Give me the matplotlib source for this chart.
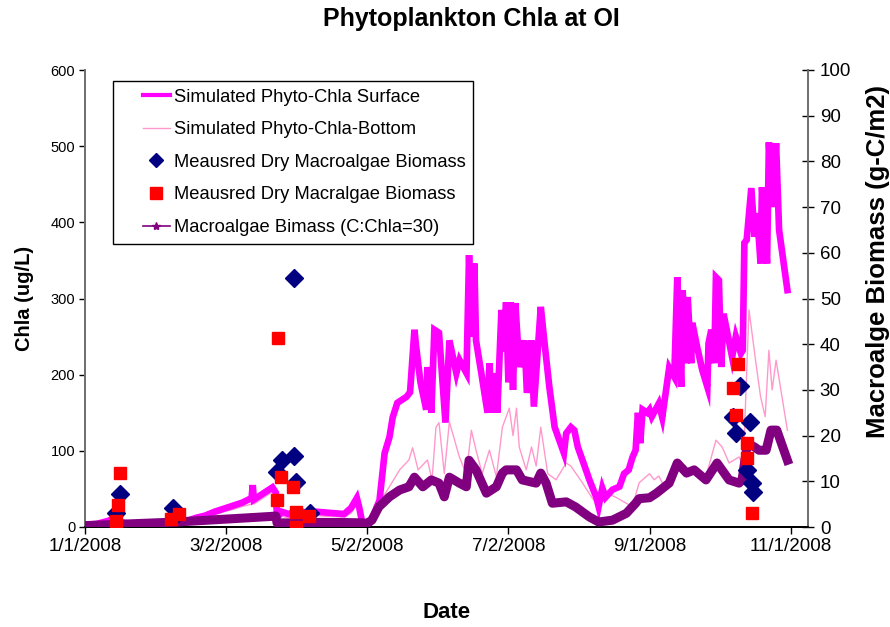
import matplotlib
matplotlib.use("Agg")
import matplotlib.pyplot as plt
from matplotlib.lines import Line2D
from matplotlib.legend_handler import HandlerLine2D

plt.rcParams['font.family'] = ['Liberation Sans', 'DejaVu Sans']

# Days since 1/1/2008
tick_days = [0, 61, 122, 183, 244, 305]
tick_labels = ["1/1/2008", "3/2/2008", "5/2/2008", "7/2/2008", "9/1/2008", "11/1/2008"]

# Simulated phytoplankton Chla at surface (ug/L)
surface_day = [0, 5, 10, 13, 16, 20, 26, 32, 36, 42, 48, 52, 56, 60, 64, 68, 72, 72.5, 73, 76,
               79, 81, 82.5, 83, 85, 88, 92, 96, 100, 104, 108, 112, 115, 117.5, 118.5, 120, 123,
               125, 127.3, 129.5, 131.6, 133, 135, 139, 140.5, 142.4, 143.0, 145, 147.5, 148,
               149.7, 151, 153, 155.8, 157.5, 160.5, 161.9, 164.9, 166, 167, 168.3, 169, 171.3,
               174, 174.8, 176, 177, 178.2, 180, 181, 182, 183, 184, 185, 186, 187.7, 190, 191,
               193, 194, 197, 198.5, 200.7, 203, 205, 207, 208, 210, 211.5, 213, 215, 218, 221,
               222, 223.6, 225, 228, 231, 233, 235, 236.7, 238, 239, 240, 241, 243, 244, 245,
               248, 249.5, 252.5, 254.7, 256, 257.7, 258.3, 260, 260.5, 262, 262.5, 264.6,
               266.8, 269, 269.5, 270.7, 272, 272.7, 274, 275, 276, 279.7, 281.3, 283.5, 284.3,
               285, 286, 288, 289.4, 290.5, 292, 292.6, 294.8, 295.6, 297, 298.7, 300, 303.6]
surface_chla = [3, 4, 8, 12, 6, 4, 3, 5, 3, 6, 12, 15, 20, 24, 28, 32, 38, 55, 36, 42,
                48, 52, 45, 12, 20, 17, 22, 18, 20, 19, 18, 17, 25, 38, 26, 3, 5,
                18, 35, 97, 118, 144, 163, 171, 177, 259, 240, 190, 154, 210,
                150, 259, 255, 137, 245, 202, 219, 202, 357, 250, 346, 245, 202,
                150, 215, 150, 202, 150, 285, 230, 295, 190, 295, 180, 294, 210, 245, 176,
                245, 158, 289, 245, 184, 131, 114, 97, 123, 131, 127, 105, 88, 62, 39,
                27, 51, 39, 49, 53, 70, 75, 92, 101, 150, 110, 154, 150, 154, 145,
                162, 144, 209, 197, 328, 184, 311, 215, 302, 215, 268, 236,
                206, 184, 241, 259, 215, 328, 324, 210, 280, 223, 250, 228, 232,
                373, 377, 445, 381, 412, 346, 446, 346, 505, 420, 504, 390, 311]

# Simulated phytoplankton Chla at bottom (ug/L)
bottom_day = [0, 10, 13, 16, 26, 36, 42, 48, 52, 56, 60, 64, 68, 72, 72.5, 73, 76, 79, 81, 82.5,
              83, 85, 88, 92, 96, 100, 104, 108, 112, 115, 117.5, 118.5, 120, 123, 127, 131.6,
              136, 140, 141.6, 144, 148, 150, 151.7, 153, 155.3, 157.5, 161.8, 164.8, 167, 169,
              171.7, 174.8, 177.8, 180.4, 183.4, 185, 186.5, 187.7, 190.7, 193, 195, 197, 200,
              203.6, 208, 210, 215, 219, 222, 225, 229.5, 234, 236.6, 239.5, 244, 246, 248,
              251, 255.5, 260, 264, 268.4, 272.7, 275.4, 278.4, 282.7, 284.5, 287, 290, 292,
              294, 295.6, 297, 298.7, 303.6]
bottom_chla = [2, 6, 10, 5, 2, 3, 4, 9, 12, 16, 20, 23, 27, 30, 45, 30, 36, 42, 46, 40,
               10, 14, 12, 16, 13, 15, 14, 14, 13, 18, 30, 20, 2, 4, 31, 53,
               75, 88, 104, 75, 88, 62, 131, 137, 70, 138, 92, 70, 127, 101,
               70, 101, 66, 131, 156, 120, 156, 105, 75, 105, 80, 131, 70,
               62, 84, 80, 58, 39, 27, 45, 39, 31, 27, 58, 70, 62, 67,
               49, 88, 66, 75, 66, 114, 105, 84, 92, 80, 285, 215, 171,
               145, 232, 180, 219, 127]

# Simulated macroalgae biomass, C:Chla = 30 (g-C/m2)
macro_day = [0, 10, 20, 30, 40, 50, 60, 70, 80, 82.5, 83, 90, 100, 110, 120, 122, 124, 127,
             131.6, 136, 140, 142.4, 146, 149.7, 153, 155.3, 157.5, 161.8, 164.8, 166, 169,
             173.5, 177.8, 180.4, 182, 186.5, 189, 195, 197, 199.3, 202, 208, 212, 218, 222,
             228, 234, 238, 239.5, 244, 247, 252.5, 256, 260, 263.3, 268.4, 273.2, 278.4,
             282.7, 284, 286.3, 289.4, 291.3, 294.4, 296.5, 299, 303.6]
macro_biomass = [0.3, 0.5, 0.7, 0.9, 1.1, 1.4, 1.7, 2.0, 2.3, 2.4, 0.9, 0.9, 1.0, 1.0, 0.9, 0.8, 1.5, 4.4,
                 6.6, 8.1, 8.8, 10.9, 8.8, 10.3, 9.6, 6.6, 10.9, 9.6, 8.8, 14.6, 12.5,
                 7.4, 8.8, 11.8, 12.5, 12.5, 10.3, 9.6, 11.8, 9.6, 5.2, 5.5, 4.4, 2.2, 1.1,
                 1.5, 3.0, 5.2, 6.2, 6.4, 7.4, 9.6, 14.0, 11.8, 12.5, 10.3, 14.0, 10.3,
                 9.6, 10.3, 18.3, 17.5, 16.8, 16.8, 21.2, 21.2, 14.6]

# Measured dry macroalgae biomass (g-C/m2)
diamond_day = [13.4, 15.2, 38.0, 38.8, 83.2, 85.3, 90.2, 90.3, 91.4, 97.1,
               280.1, 281.3, 283.0, 287.3, 286.3, 288.4, 288.6]
diamond_biomass = [3.0, 7.2, 4.2, 2.3, 12.1, 14.7, 54.5, 15.6, 9.9, 3.1,
                   24.1, 20.5, 30.9, 22.9, 12.5, 9.6, 7.7]

square_day = [13.2, 14.1, 15.1, 37.0, 40.7, 83.2, 83.3, 84.9, 90.0, 91.1, 91.1, 97.0,
              280.0, 281.3, 282.3, 286.3, 286.0, 288.2]
square_biomass = [1.4, 4.8, 11.9, 1.7, 2.8, 5.8, 41.4, 10.9, 8.8, 3.3, 0.0, 2.3,
                  30.5, 24.4, 35.7, 18.3, 15.0, 3.0]

SURF = '#FF00FF'
BOTT = '#FF99CC'
MACRO = '#800080'
NAVY = '#000080'
RED = '#FF0000'

fig = plt.figure(figsize=(8.9, 6.27), dpi=100)
ax = fig.add_axes([85 / 890, 1 - 527 / 627, 723 / 890, 457 / 627])
ax2 = ax.twinx()

ax.plot(bottom_day, bottom_chla, color=BOTT, lw=1.0, zorder=2)
ax.plot(surface_day, surface_chla, color=SURF, lw=4.8, zorder=3,
        solid_joinstyle='miter')

ax2.plot(macro_day, macro_biomass, color=MACRO, lw=6.5, zorder=3)
ax2.plot(diamond_day, diamond_biomass, ls='none', marker='D', ms=9.5,
         color=NAVY, mec=NAVY, zorder=4)
ax2.plot(square_day, square_biomass, ls='none', marker='s', ms=8.5,
         color=RED, mec=RED, zorder=5)

ax.set_xlim(0, 312.5)
ax.set_ylim(0, 600)
ax2.set_ylim(0, 100)
ax.set_yticks(range(0, 601, 100))
ax2.set_yticks(range(0, 101, 10))
ax.set_xticks(tick_days)
ax.set_xticklabels(tick_labels)

ax.tick_params(axis='x', direction='out', length=5, width=1, labelsize=13.5, pad=3)
ax.tick_params(axis='y', direction='out', length=4, width=1, labelsize=10.5, pad=3)
ax2.tick_params(axis='y', direction='inout', length=9, width=1, labelsize=13.5, pad=4)

for a in (ax, ax2):
    a.spines['top'].set_visible(False)
    a.spines['left'].set_color('#707070')
    a.spines['right'].set_color('#707070')
    a.spines['bottom'].set_color('black')
    a.spines['left'].set_linewidth(1.3)
    a.spines['right'].set_linewidth(1.3)
    a.spines['bottom'].set_linewidth(1.3)
ax.patch.set_visible(False)

handles = [
    Line2D([], [], color=SURF, lw=3),
    Line2D([], [], color=BOTT, lw=1),
    Line2D([], [], ls='none', marker='D', ms=7, color=NAVY),
    Line2D([], [], ls='none', marker='s', ms=8, color=RED),
    Line2D([], [], color=MACRO, lw=1.2, marker='*', ms=6),
]
labels = [
    "Simulated Phyto-Chla Surface",
    "Simulated Phyto-Chla-Bottom",
    "Meausred Dry Macroalgae Biomass",
    "Meausred Dry Macralgae Biomass",
    "Macroalgae Bimass (C:Chla=30)",
]
padded = HandlerLine2D(xpad=1.2)
leg = ax2.legend(handles, labels, loc='upper left', bbox_to_anchor=(0.0387, 0.976),
                 fontsize=13.2, frameon=True, fancybox=False, framealpha=1,
                 edgecolor='black', borderpad=0.42, labelspacing=0.85,
                 handlelength=2.7, handletextpad=0.2, borderaxespad=0,
                 handler_map={h: padded for h in handles})
leg.get_frame().set_linewidth(1.0)

fig.text(471 / 890, 1 - 19 / 627, "Phytoplankton Chla at OI", ha='center', va='center',
         fontsize=18, fontweight='bold')
fig.text(447 / 890, 1 - 612 / 627, "Date", ha='center', va='center',
         fontsize=16, fontweight='bold')
fig.text(25 / 890, 1 - 298 / 627, "Chla (ug/L)", ha='center', va='center', rotation=90,
         fontsize=14.5, fontweight='bold')
fig.text(878 / 890, 1 - 261 / 627, "Macroalge Biomass (g-C/m2)", ha='center', va='center',
         rotation=90, fontsize=18.5, fontweight='bold')

fig.savefig("out.png", dpi=100)
